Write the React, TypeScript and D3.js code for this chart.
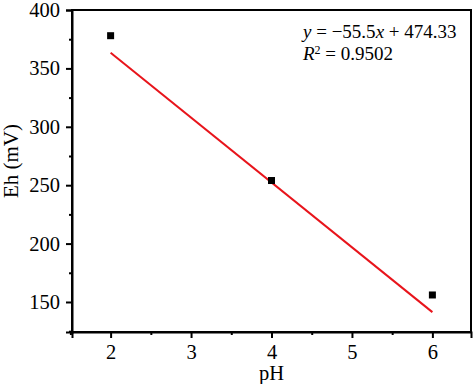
import * as d3 from "d3";
import { useEffect, useRef } from "react";

// measured points
const phValues = [2, 4, 6];
const ehValues = [378, 254, 156];
// linear fit as printed on the chart
const fitSlope = -55.5;
const fitIntercept = 474.33;
const fitR2 = "0.9502";
const xTicks = [2, 3, 4, 5, 6];
const yTicks = [150, 200, 250, 300, 350, 400];

export default function App() {
  const svgRef = useRef<SVGSVGElement>(null);

  useEffect(() => {
    if (!svgRef.current) return;
    const root = d3.select(svgRef.current);
    root.selectAll("*").remove();

    const width = 474;
    const height = 384;
    const margin = { top: 10, right: 3, bottom: 52, left: 72 };
    const font = "'Times New Roman', 'Liberation Serif', serif";

    const x = d3.scaleLinear().domain([1.52, 6.48]).range([margin.left, width - margin.right]);
    const y = d3.scaleLinear().domain([124.3, 400]).range([height - margin.bottom, margin.top]);

    root.attr("width", width).attr("height", height).style("font-family", font);
    const svg = root.append("g");

    // frame
    svg
      .append("rect")
      .attr("x", margin.left)
      .attr("y", margin.top)
      .attr("width", width - margin.right - margin.left)
      .attr("height", height - margin.bottom - margin.top)
      .attr("fill", "none")
      .attr("stroke", "#000")
      .attr("stroke-width", 2);

    // x axis
    const xAxis = svg
      .append("g")
      .attr("transform", `translate(0,${height - margin.bottom})`)
      .call(d3.axisBottom(x).tickValues(xTicks).tickFormat(d3.format("d")).tickSize(6).tickPadding(6));
    svg
      .append("g")
      .attr("transform", `translate(0,${height - margin.bottom})`)
      .call(d3.axisBottom(x).tickValues([1.5, 2.5, 3.5, 4.5, 5.5]).tickFormat(() => "").tickSize(3))
      .call((g) => g.select(".domain").remove());

    // y axis
    const yAxis = svg
      .append("g")
      .attr("transform", `translate(${margin.left},0)`)
      .call(d3.axisLeft(y).tickValues(yTicks).tickSize(6).tickPadding(6));
    svg
      .append("g")
      .attr("transform", `translate(${margin.left},0)`)
      .call(d3.axisLeft(y).tickValues([125, 175, 225, 275, 325, 375]).tickFormat(() => "").tickSize(3))
      .call((g) => g.select(".domain").remove());

    svg.selectAll(".domain").attr("stroke-width", 2);
    svg.selectAll(".tick line").attr("stroke-width", 2);
    svg.selectAll("g").attr("font-family", null);
    [xAxis, yAxis].forEach((a) =>
      a.selectAll("text").style("font-family", font).style("font-size", "20.5px").attr("fill", "#000"),
    );

    // axis titles
    svg
      .append("text")
      .attr("x", x(4))
      .attr("y", 380)
      .attr("text-anchor", "middle")
      .style("font-size", "20.5px")
      .text("pH");
    svg
      .append("text")
      .attr("transform", `translate(18,161) rotate(-90)`)
      .attr("text-anchor", "middle")
      .style("font-size", "21px")
      .text("Eh (mV)");

    // fit line
    const xs = d3.extent(phValues) as [number, number];
    svg
      .append("line")
      .attr("x1", x(xs[0]))
      .attr("y1", y(fitSlope * xs[0] + fitIntercept))
      .attr("x2", x(xs[1]))
      .attr("y2", y(fitSlope * xs[1] + fitIntercept))
      .attr("stroke", "#e8141b")
      .attr("stroke-width", 2);

    // points
    const s = 7;
    svg
      .selectAll(".pt")
      .data(phValues)
      .enter()
      .append("rect")
      .attr("class", "pt")
      .attr("x", (d) => x(d) - s / 2)
      .attr("y", (d, i) => y(ehValues[i]) - s / 2)
      .attr("width", s)
      .attr("height", s)
      .attr("fill", "#000");

    // equation
    const eq = svg.append("text").attr("x", 303).attr("y", 38).style("font-size", "19px");
    eq.append("tspan").attr("font-style", "italic").text("y");
    eq.append("tspan").text(` = \u2212${Math.abs(fitSlope)}`);
    eq.append("tspan").attr("font-style", "italic").text("x");
    eq.append("tspan").text(` + ${fitIntercept}`);

    const r2 = svg.append("text").attr("x", 303).attr("y", 60).style("font-size", "19px");
    r2.append("tspan").attr("font-style", "italic").text("R");
    r2.append("tspan").style("font-size", "12px").attr("dy", -6).text("2");
    r2.append("tspan").attr("dy", 6).text(` = ${fitR2}`);
  }, []);

  return (
    <div style={{ position: "absolute", left: 0, top: 0 }}>
      <svg ref={svgRef}></svg>
    </div>
  );
}
